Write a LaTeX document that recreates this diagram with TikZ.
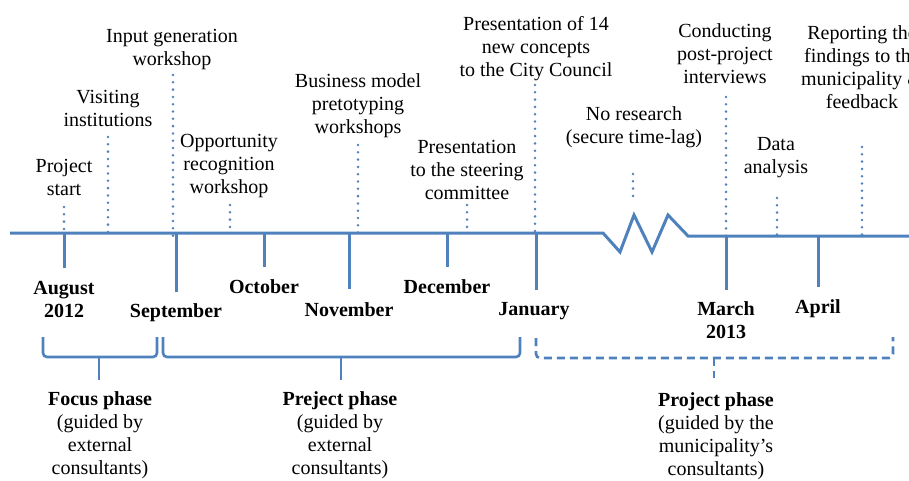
\documentclass[tikz,border=0pt]{standalone}
\usepackage{fontspec}
\setmainfont{Liberation Serif}
\usepackage{tikz}
\usetikzlibrary{positioning}
\usetikzlibrary{calc}
\definecolor{lineblue}{RGB}{79,129,189}

\tikzset{
	timeline/.style={lineblue, line width=3pt, line join=miter},
	monthtick/.style={lineblue, line width=3pt},
	guide/.style={lineblue, line width=2.8pt, line cap=round, dash pattern=on 0pt off 7.3pt},
	phasebrace/.style={lineblue, line width=2.6pt, rounded corners=4pt},
	eventtext/.style={align=center, inner sep=0pt, anchor=base, font=\fontsize{20}{23}\selectfont},
	monthtext/.style={eventtext, font=\fontsize{20}{23}\selectfont\bfseries},
}

\begin{document}
\begin{tikzpicture}[x=1pt, y=-1pt]
		
		% ---------------------
		% Proper size --- Bounding box
		\useasboundingbox (0,0) rectangle (909,480);
		\clip (0,0) rectangle (909,480);
		
		% ---------------------
		% Timeline with the time-lag break
		\coordinate (AxisL) at (10,233);
		\coordinate (BreakA) at (603,233);
		\coordinate (BreakB) at (620,252);
		\coordinate (BreakC) at (634,215);
		\coordinate (BreakD) at (652,252);
		\coordinate (BreakE) at (668,215);
		\coordinate (BreakF) at (688,236);
		\coordinate (AxisR) at (909,236);
		
		\draw[timeline] (AxisL) -- (BreakA) -- (BreakB) -- (BreakC) -- (BreakD) -- (BreakE) -- (BreakF) -- (AxisR);
		
		% ---------------------
		% Months (label base = last line)
		\coordinate (Aug) at (64,233);
		\coordinate (Sep) at (176,233);
		\coordinate (Oct) at (264,233);
		\coordinate (Nov) at (349,233);
		\coordinate (Dec) at (447,233);
		\coordinate (Jan) at (536,233);
		\coordinate (Mar) at (726,236);
		\coordinate (Apr) at (818,236);
		
		\path (Aug) +(0,35) coordinate (AugEnd);
		\path (Sep) +(0,59) coordinate (SepEnd);
		\path (Oct) +(0,34) coordinate (OctEnd);
		\path (Nov) +(0,56) coordinate (NovEnd);
		\path (Dec) +(0,34) coordinate (DecEnd);
		\path (Jan) +(0,57) coordinate (JanEnd);
		\path (Mar) +(0,54) coordinate (MarEnd);
		\path (Apr) +(0,51) coordinate (AprEnd);
		
		\foreach \m in {Aug,Sep,Oct,Nov,Dec,Jan,Mar,Apr}
		\draw[monthtick] (\m) -- (\m End);
		
		\path (AugEnd) +(0,49) node[monthtext] (AugLbl) {August\\2012};
		\path (SepEnd) +(0,25) node[monthtext] (SepLbl) {September};
		\path (OctEnd) +(0,26) node[monthtext] (OctLbl) {October};
		\path (NovEnd) +(0,27) node[monthtext] (NovLbl) {November};
		\path (DecEnd) +(0,26) node[monthtext] (DecLbl) {December};
		\path (JanEnd) +(0,25) node[monthtext, xshift=-2pt] (JanLbl) {January};
		\path (MarEnd) +(0,48) node[monthtext] (MarLbl) {March\\2013};
		\path (AprEnd) +(0,26) node[monthtext] (AprLbl) {April};
		
		% ---------------------
		% Events above the timeline
		\coordinate (StartTop) at (64,207);     \coordinate (StartBot) at (64,233);
		\coordinate (VisitTop) at (108,137);    \coordinate (VisitBot) at (108,233);
		\coordinate (InputTop) at (173,75);     \coordinate (InputBot) at (173,240);
		\coordinate (OpporTop) at (230,205);    \coordinate (OpporBot) at (230,233);
		\coordinate (BizTop) at (358,145);      \coordinate (BizBot) at (358,233);
		\coordinate (SteerTop) at (467,205);    \coordinate (SteerBot) at (467,233);
		\coordinate (CouncilTop) at (535,85);   \coordinate (CouncilBot) at (535,233);
		\coordinate (NoResTop) at (633,174);    \coordinate (NoResBot) at (633,199);
		\coordinate (InterTop) at (726,97);     \coordinate (InterBot) at (726,236);
		\coordinate (DataTop) at (777,198);     \coordinate (DataBot) at (777,236);
		\coordinate (ReportTop) at (862,147);   \coordinate (ReportBot) at (862,236);
		
		\foreach \e in {Start,Visit,Input,Oppor,Biz,Steer,Council,NoRes,Inter,Data,Report}
		\draw[guide] (\e Top) -- (\e Bot);
		
		\node[eventtext] (StartLbl) at (64,195) {Project\\start};
		\node[eventtext] (VisitLbl) at (108,126) {Visiting\\institutions};
		\node[eventtext] (InputLbl) at (172,65) {Input generation\\workshop};
		\node[eventtext] (OpporLbl) at (229,193) {Opportunity\\recognition\\workshop};
		\node[eventtext] (BizLbl) at (358,133) {Business model\\pretotyping\\workshops};
		\node[eventtext] (SteerLbl) at (467,199) {Presentation\\to the steering\\committee};
		\node[eventtext] (CouncilLbl) at (536,76) {Presentation of 14\\new concepts\\to the City Council};
		\node[eventtext] (NoResLbl) at (634,143) {No research\\(secure time-lag)};
		\node[eventtext] (InterLbl) at (725,83) {Conducting\\post-project\\interviews};
		\node[eventtext] (DataLbl) at (776,173) {Data\\analysis};
		\node[eventtext] (ReportLbl) at (862,108) {Reporting the\\findings to the\\municipality \&\\feedback};
		
		% ---------------------
		% Phase braces
		\coordinate (FocusL) at (43,337);
		\coordinate (FocusR) at (157,337);
		\coordinate (FocusMid) at (99,357);
		\coordinate (FocusStem) at (99,380);
		
		\coordinate (PrejL) at (163,337);
		\coordinate (PrejR) at (520,337);
		\coordinate (PrejMid) at (341,357);
		\coordinate (PrejStem) at (341,380);
		
		\coordinate (ProjL) at (536,338);
		\coordinate (ProjR) at (893,337);
		\coordinate (ProjMid) at (714,358);
		\coordinate (ProjStem) at (714,378);
		
		\draw[phasebrace] (FocusL) |- (FocusMid) -| (FocusR);
		\draw[phasebrace] (FocusMid) -- (FocusStem);
		\draw[phasebrace] (PrejL) |- (PrejMid) -| (PrejR);
		\draw[phasebrace] (PrejMid) -- (PrejStem);
		\draw[phasebrace, dash pattern=on 8pt off 5pt] (ProjL) |- (ProjMid) -| (ProjR);
		\draw[phasebrace, dash pattern=on 8pt off 5pt] (ProjMid) -- (ProjStem);
		
		\node[eventtext] (FocusLbl) at (100,474) {\textbf{Focus phase}\\(guided by\\external\\consultants)};
		\node[eventtext] (PrejLbl) at (340,474) {\textbf{Preject phase}\\(guided by\\external\\consultants)};
		\node[eventtext] (ProjLbl) at (716,475) {\textbf{Project phase}\\(guided by the\\municipality’s\\consultants)};
		
\end{tikzpicture}
\end{document}
